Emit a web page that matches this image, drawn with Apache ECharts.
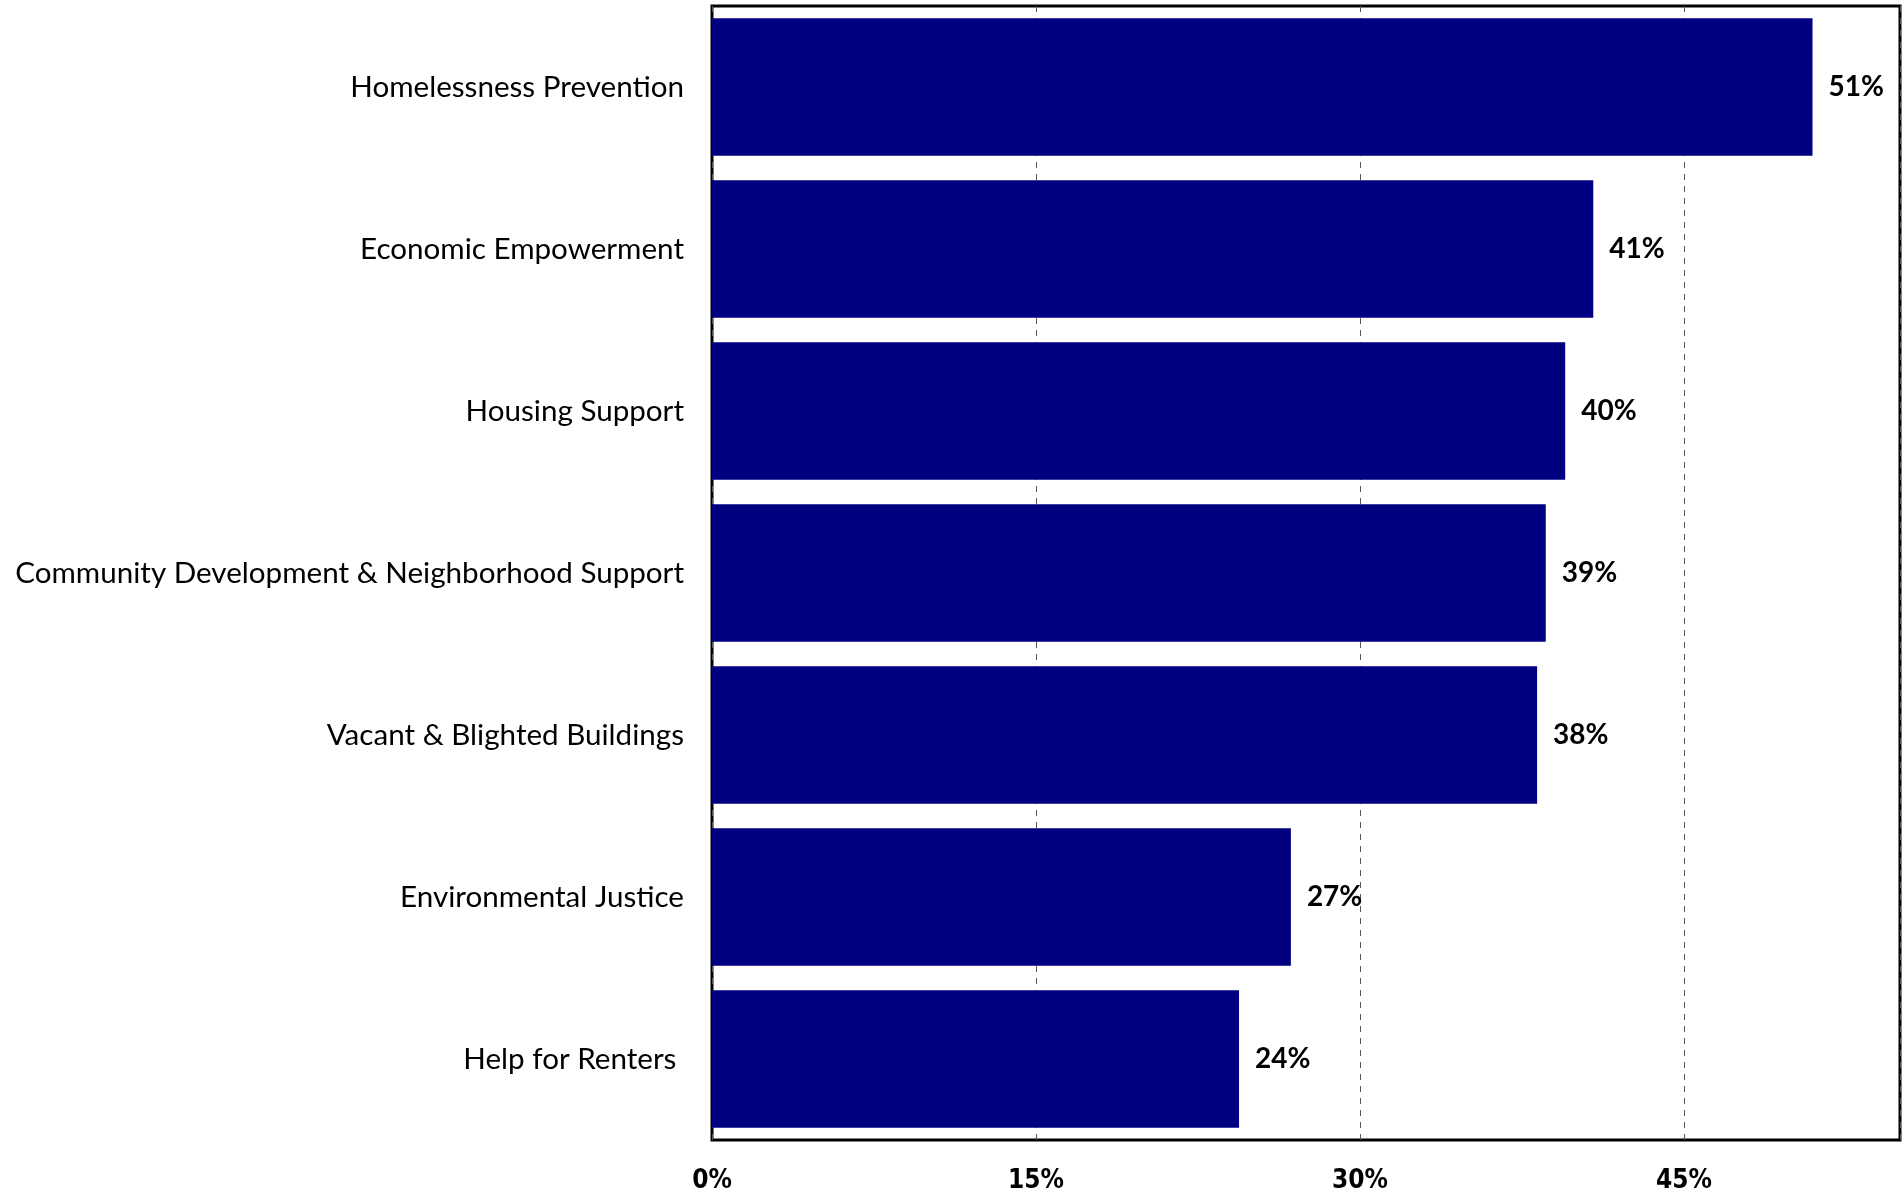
<!DOCTYPE html>
<html><head><meta charset="utf-8">
<script src="https://cdn.jsdelivr.net/npm/echarts@6/dist/echarts.min.js"></script>
<style>html,body{margin:0;padding:0;background:#fff}#c{width:1904px;height:1194px}</style>
</head><body><div id="c"></div>
<script>
const categories = ["Homelessness Prevention","Economic Empowerment","Housing Support","Community Development & Neighborhood Support","Vacant & Blighted Buildings","Environmental Justice","Help for Renters "];
const values = [50.95, 40.8, 39.5, 38.6, 38.2, 26.8, 24.4];
const tickLabels = ["0%","15%","30%","45%"];

const chart = echarts.init(document.getElementById('c'));
chart.setOption({
  animation: false,
  grid: {left: 712, right: 4, top: 6, bottom: 53, show: true, borderColor: '#000', borderWidth: 3, backgroundColor: 'transparent'},
  xAxis: {
    type: 'value', min: 0, max: 55, interval: 15,
    axisLine: {show: false}, axisTick: {show: false},
    splitLine: {show: true, lineStyle: {color: '#555', width: 1, type: [6, 6]}},
    axisLabel: {
      margin: 28, color: '#000', fontSize: 26, fontWeight: 'bold',
      fontFamily: '"Liberation Sans Narrow","DejaVu Sans Condensed",sans-serif',
      formatter: v => { const i = Math.round(v / 15); return (v % 15 === 0 && i < tickLabels.length) ? tickLabels[i] : ''; }
    }
  },
  yAxis: {
    type: 'category', data: categories, inverse: true,
    axisLine: {show: false}, axisTick: {show: false}, splitLine: {show: false},
    axisLabel: {margin: 28, color: '#000', fontSize: 29.6, padding: [10, 0, 0, 0], fontFamily: 'Lato, "Open Sans", sans-serif'}
  },
  series: [{
    type: 'bar', data: values, barCategoryGap: '15%',
    itemStyle: {color: '#000080'},
    label: {show: true, position: 'right', distance: 16, color: '#000', fontSize: 28, fontWeight: 'bold',
      padding: [10, 0, 0, 0],
      fontFamily: 'Lato, "Open Sans", sans-serif',
      formatter: p => Math.round(p.value) + '%'}
  }]
});
</script></body></html>
